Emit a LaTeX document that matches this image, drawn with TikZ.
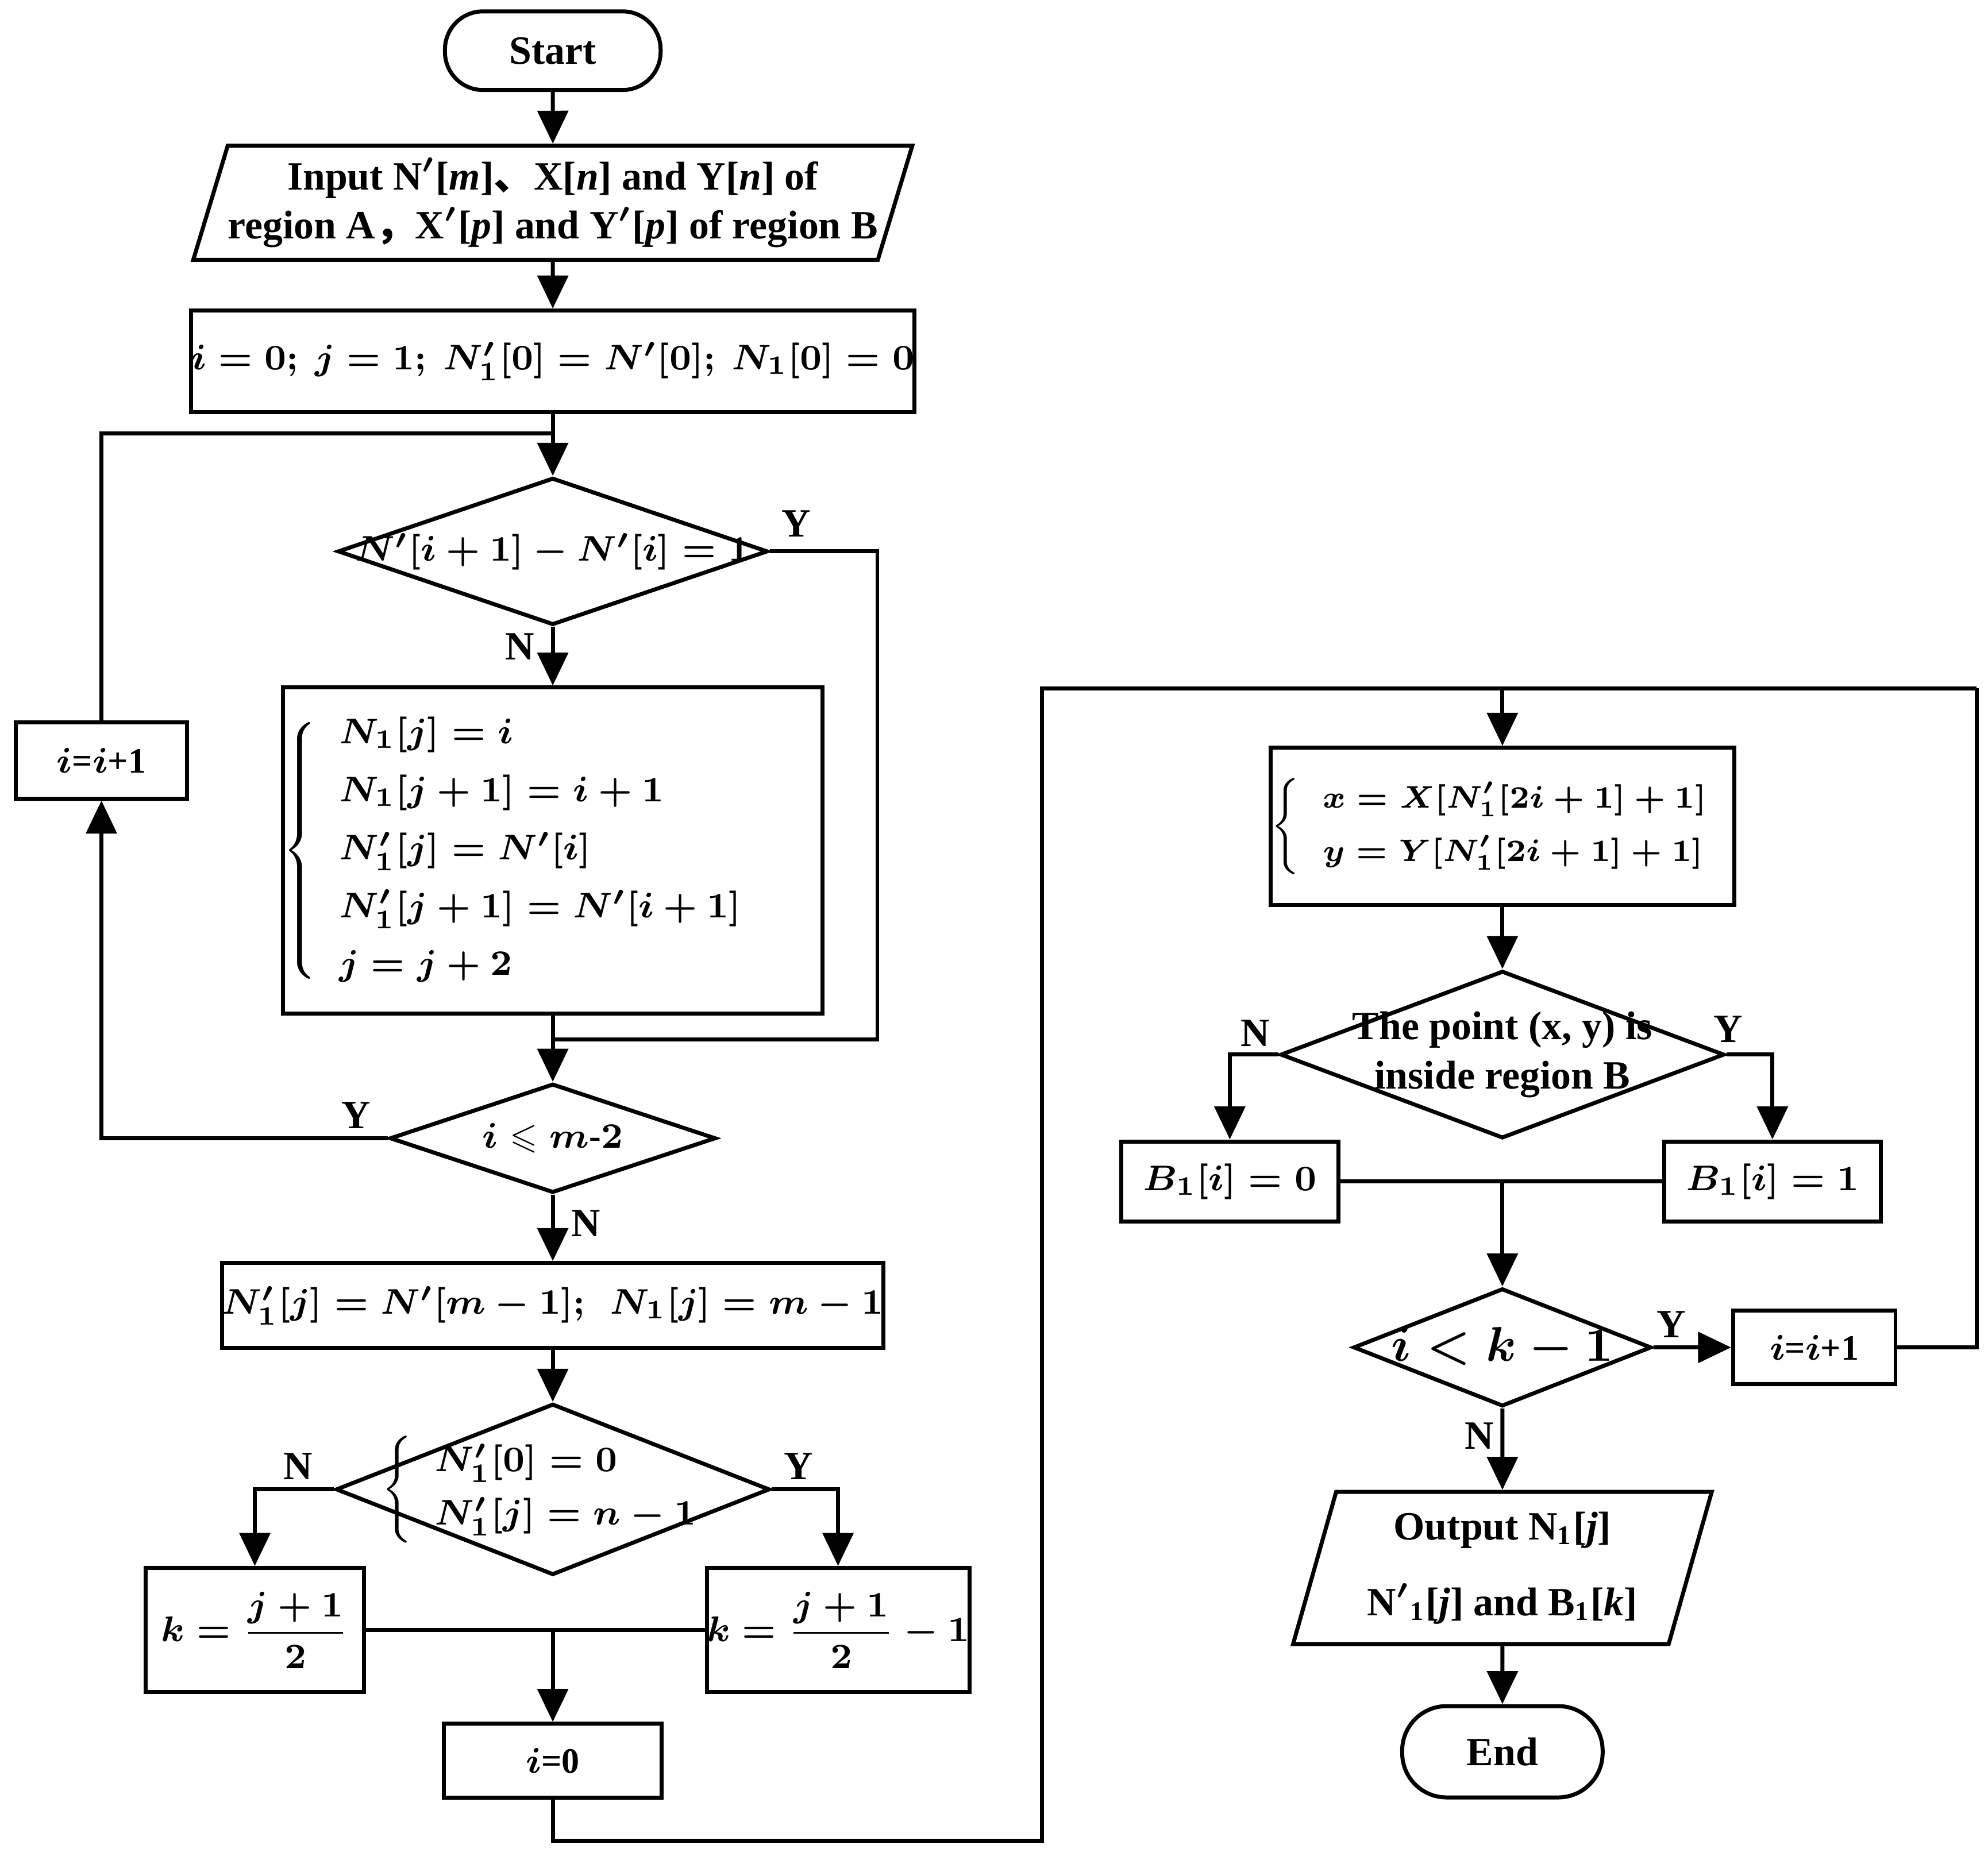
\documentclass[tikz,border=0pt]{standalone}
\usepackage{amsmath,amssymb}
\usepackage{fontspec}
\setmainfont{Liberation Serif}
\newfontfamily\cjk{Noto Sans CJK SC}
\usetikzlibrary{shapes.geometric,arrows.meta}
\begin{document}
\begin{tikzpicture}[>={Triangle[length=2.6mm,width=2.4mm]},font=\fontsize{9}{11}\selectfont\bfseries\boldmath,line width=0.9pt,x=0.01cm,y=-0.01cm]

    % Define node styles
    \tikzstyle{term_block} = [draw, rounded corners=3mm, minimum width=1.7cm, minimum height=0.62cm, inner sep=0pt]
    \tikzstyle{proc_block} = [draw, inner sep=0pt, text centered, font=\fontsize{8}{10}\selectfont\bfseries\boldmath]
    \tikzstyle{io_block} = [draw, trapezium, trapezium left angle=69, trapezium right angle=111, trapezium stretches body, inner sep=0pt, align=center]
    \tikzstyle{dec_block} = [draw, diamond, inner sep=0pt, align=center]
    \tikzstyle{in_text} = [align=center, font=\fontsize{8}{10}\selectfont\bfseries\boldmath]
    \tikzstyle{lbl} = [font=\fontsize{9}{11}\selectfont\bfseries]

    \useasboundingbox (0,0) rectangle (1568,1464);

    % Draw nodes
    \node [term_block] (start) at (436,40) {Start};
    \node [io_block, minimum width=5.63cm, minimum height=0.9cm] (input) at (436,160)
        {Input N$'$[\textit{m}]{\cjk 、}X[\textit{n}] and Y[\textit{n}] of\\region A{\cjk ，}X$'$[\textit{p}] and Y$'$[\textit{p}] of region B};
    \node [proc_block, minimum width=5.36cm, minimum height=0.8cm] (init) at (436,285)
        {$i=0;\ j=1;\ N_1'[0]=N'[0];\ N_1[0]=0$};
    \node [dec_block, minimum width=3.39cm, minimum height=1.16cm] (cond1) at (436,435) {};
    \node [in_text] at (cond1) {$N'[i+1]-N'[i]=1$};
    \node [proc_block, minimum width=3.43cm, minimum height=2.57cm] (assign) at (436,671)
        {$\left\{\begin{array}{l}N_1[j]=i\\[3pt] N_1[j+1]=i+1\\[3pt] N_1'[j]=N'[i]\\[3pt] N_1'[j+1]=N'[i+1]\\[3pt] j=j+2\end{array}\right.\hspace{1.5em}$};
    \node [dec_block, minimum width=2.57cm, minimum height=0.86cm] (cond2) at (436,898) {};
    \node [in_text] at (cond2) {$i\leqslant m\text{-}2$};
    \node [proc_block, minimum width=1.35cm, minimum height=0.6cm] (incA) at (80,600)
        {$i$=$i$+1};
    \node [proc_block, minimum width=4.93cm, minimum height=0.67cm] (last) at (436,1030)
        {$N_1'[j]=N'[m-1];\ \ N_1[j]=m-1$};
    \node [dec_block, minimum width=3.42cm, minimum height=1.35cm] (cond3) at (436,1175) {};
    \node [in_text] at (cond3) {$\left\{\begin{array}{l}N_1'[0]=0\\[2pt] N_1'[j]=n-1\end{array}\right.$};
    \node [proc_block, minimum width=1.72cm, minimum height=0.98cm] (kL) at (201,1286)
        {$k=\dfrac{j+1}{2}$};
    \node [proc_block, minimum width=1.92cm, minimum height=0.98cm] (kR) at (661,1286)
        {$k=\dfrac{j+1}{2}-1$};
    \node [proc_block, minimum width=1.72cm, minimum height=0.58cm] (zero) at (436,1389)
        {$i$=0};
    \node [proc_block, minimum width=2.99cm, minimum height=1.24cm, font=\fontsize{7.2}{9}\selectfont\bfseries\boldmath] (xy) at (1185,652)
        {$\left\{\begin{array}{l}x=X[N_1'[2i+1]+1]\\[3pt] y=Y[N_1'[2i+1]+1]\end{array}\right.$};
    \node [dec_block, minimum width=3.5cm, minimum height=1.32cm] (inside) at (1185,832) {};
    \node [align=center] at (inside) {The point (x, y) is\\inside region B};
    \node [proc_block, minimum width=1.71cm, minimum height=0.63cm] (bZero) at (970,932)
        {$B_1[i]=0$};
    \node [proc_block, minimum width=1.71cm, minimum height=0.63cm] (bOne) at (1398,932)
        {$B_1[i]=1$};
    \node [dec_block, minimum width=2.35cm, minimum height=0.93cm] (cond4) at (1185,1063) {};
    \node [in_text, font=\fontsize{11}{13}\selectfont\bfseries\boldmath] at (cond4) {$i<k-1$};
    \node [proc_block, minimum width=1.28cm, minimum height=0.58cm] (incB) at (1431,1063)
        {$i$=$i$+1};
    \node [io_block, minimum width=3.3cm, minimum height=1.2cm] (output) at (1185,1237)
        {Output N\textsubscript{1}[\textit{j}]\\[6pt]N$'$\textsubscript{1}[\textit{j}] and B\textsubscript{1}[\textit{k}]};
    \node [term_block, minimum width=1.58cm, minimum height=0.72cm, rounded corners=3.5mm] (stop) at (1185,1382) {End};

    \coordinate (loopTop) at (436,342);
    \coordinate (yesJoin) at (436,820);
    \coordinate (kJoin) at (436,1286);
    \coordinate (topRun) at (1185,543);
    \coordinate (bJoin) at (1185,932);

    % Draw arrows
    \draw [->] (start) -- (input);
    \draw [->] (input) -- (init);
    \draw [->] (init) -- (cond1);
    \draw (incA.north) |- (loopTop);
    \draw (cond1.east) -| (692,820) -- (yesJoin);
    \draw [->] (cond1) -- (assign);
    \draw [->] (assign) -- (cond2);
    \draw [->] (cond2.west) -| (incA.south);
    \draw [->] (cond2) -- (last);
    \draw [->] (last) -- (cond3);
    \draw [->] (cond3.west) -| (kL.north);
    \draw [->] (cond3.east) -| (kR.north);
    \draw (kL.east) -- (kR.west);
    \draw [->] (kJoin) -- (zero);
    \draw (zero.south) |- (822,1452) -- (822,543) -- (1559,543);
    \draw (incB.east) -| (1559,543);
    \draw [->] (topRun) -- (xy);
    \draw [->] (xy) -- (inside);
    \draw [->] (inside.west) -| (bZero.north);
    \draw [->] (inside.east) -| (bOne.north);
    \draw (bZero.east) -- (bOne.west);
    \draw [->] (bJoin) -- (cond4);
    \draw [->] (cond4) -- (incB);
    \draw [->] (cond4) -- (output);
    \draw [->] (output) -- (stop);

    % Labels
    \node [lbl] at (628,413) {Y};
    \node [lbl] at (410,510) {N};
    \node [lbl] at (281,880) {Y};
    \node [lbl] at (462,965) {N};
    \node [lbl] at (235,1157) {N};
    \node [lbl] at (630,1157) {Y};
    \node [lbl] at (990,815) {N};
    \node [lbl] at (1363,812) {Y};
    \node [lbl] at (1318,1045) {Y};
    \node [lbl] at (1167,1133) {N};
\end{tikzpicture}
\end{document}
